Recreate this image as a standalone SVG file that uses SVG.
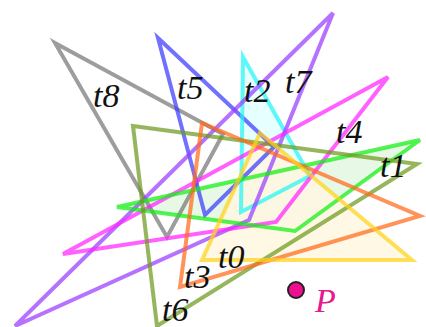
<svg xmlns="http://www.w3.org/2000/svg" width="426" height="327" viewBox="0 0 426 327">
<style>
.tri{stroke-width:4;stroke-linejoin:miter;stroke-opacity:0.72}
.lbl{font-family:"Liberation Serif","DejaVu Serif",serif;font-style:italic;font-size:34px;fill:#111}
</style>
<rect width="426" height="327" fill="#fff"/>
<g id="fills">
<polygon points="243,57 310,176 241,212" fill="#e6ffff"/>
<polygon points="420,140 295,231 117,207" fill="#e3f7e3" fill-opacity="0.85"/>
<polygon points="260,133 412,260 202,260" fill="#fff7e0" fill-opacity="0.85"/>
</g>
<g id="t8"><polygon class="tri" points="55,43 223,134 167,237" fill="none" stroke="#777"/></g>
<g id="t5"><polygon class="tri" points="158,38 274,147 205,215" fill="none" stroke="#3a3aff"/></g>
<g id="t2"><polygon class="tri" points="243,57 310,176 241,212" fill="none" stroke="#22f5f5"/></g>
<g id="t7"><polygon class="tri" points="333,13 249,220 15,326" fill="none" stroke="#9a3cff"/></g>
<g id="t4"><polygon class="tri" points="388,77 276,222 63,254" fill="none" stroke="#ff22ff"/></g>
<g id="t1"><polygon class="tri" points="420,140 295,231 117,207" fill="none" stroke="#11ee11"/></g>
<g id="t6"><polygon class="tri" points="133,126 417,164 157,326" fill="none" stroke="#6e9a1e"/></g>
<g id="t3"><polygon class="tri" points="202,123 420,216 180,287" fill="none" stroke="#ff6a1a"/></g>
<g id="t0"><polygon class="tri" points="260,133 412,260 202,260" fill="none" stroke="#ffd21a"/></g>
<g id="labels">
<text class="lbl" x="93" y="107">t8</text>
<text class="lbl" x="177" y="99">t5</text>
<text class="lbl" x="244" y="102">t2</text>
<text class="lbl" x="285" y="93">t7</text>
<text class="lbl" x="336" y="143">t4</text>
<text class="lbl" x="380" y="177">t1</text>
<text class="lbl" x="218" y="268">t0</text>
<text class="lbl" x="184" y="288">t3</text>
<text class="lbl" x="162" y="321">t6</text>
</g>
<g id="P">
<circle cx="296" cy="290" r="8" fill="#ee0f8f" stroke="#222" stroke-width="2"/>
<text x="315" y="312" font-family="Liberation Serif,DejaVu Serif,serif" font-style="italic" font-size="34" fill="#e8188e">P</text>
</g>
</svg>
